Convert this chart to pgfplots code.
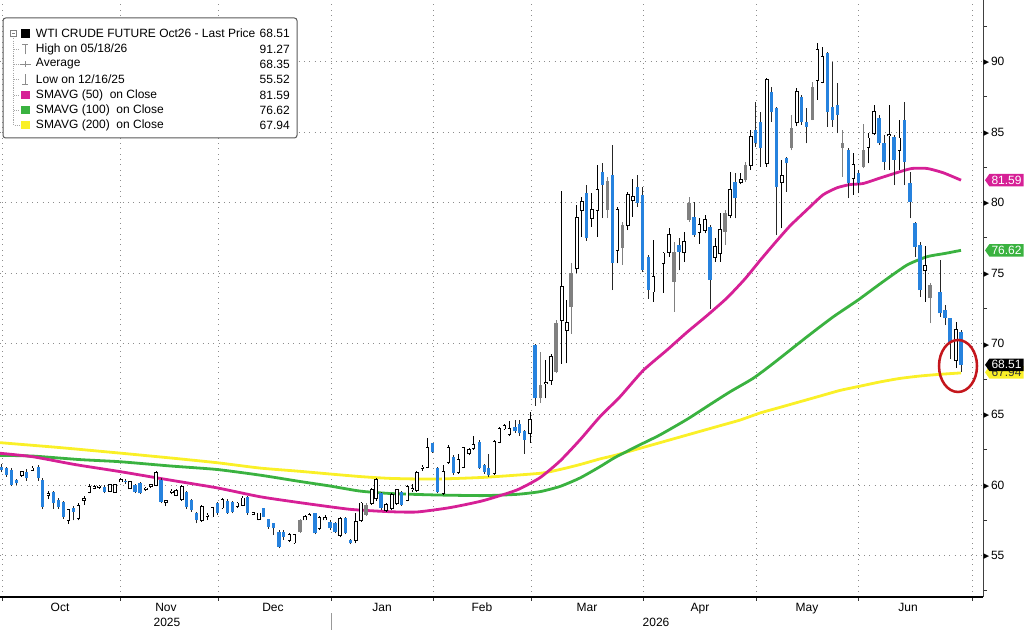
\documentclass[border=0pt]{standalone}
\usepackage{fontspec}
\setmainfont{Liberation Sans}
\newfontfamily\djv{DejaVu Sans}
\usepackage{pgfplots}
\pgfplotsset{compat=1.18}
\usepackage{pgfplotstable}
\usetikzlibrary{shapes.symbols}

\definecolor{bbblue}{RGB}{38,130,222}
\definecolor{bbgray}{RGB}{128,128,128}
\definecolor{mag}{RGB}{214,32,150}
\definecolor{grn}{RGB}{58,178,64}
\definecolor{yel}{RGB}{250,240,40}
\definecolor{redc}{RGB}{196,22,28}

\newcommand{\ytl}[1]{{\djv\fontsize{5.5}{6}\selectfont\raisebox{0.7pt}{▶}}\hspace{1.3pt}#1}

\pgfplotstableread{
x o h l c
21.7 60.71 61.00 60.60 60.94
32.3 61.06 61.35 61.00 61.18
48.3 59.30 59.60 59.00 59.35
68.3 57.52 58.30 57.24 58.23
78.3 57.64 58.70 57.50 58.50
84.0 58.94 59.20 58.60 59.00
89.3 59.53 60.10 59.40 59.88
94.3 59.80 60.00 59.70 59.85
99.0 59.85 60.00 59.75 59.90
110.0 59.60 60.10 59.50 60.00
115.0 59.50 60.10 59.45 60.00
120.7 60.24 60.50 60.20 60.35
130.0 59.76 60.30 59.70 60.24
145.7 59.70 59.85 59.60 59.76
150.7 59.90 60.10 59.80 60.00
156.0 60.00 61.00 59.90 60.83
165.7 58.80 58.90 58.50 58.85
171.7 59.50 59.70 59.35 59.55
176.0 59.29 59.70 59.20 59.60
181.7 59.00 60.00 58.90 59.88
201.7 57.52 58.60 57.40 58.46
207.3 57.80 58.00 57.52 57.85
212.3 57.76 58.45 57.70 58.35
222.3 58.40 59.10 58.30 58.94
237.3 58.50 58.80 58.40 58.70
242.7 58.60 59.20 58.50 59.05
253.3 57.95 58.10 57.90 58.00
258.7 57.57 58.05 57.50 57.99
289.3 56.10 56.60 56.00 56.45
294.3 55.92 56.55 55.85 56.45
305.0 57.55 57.85 57.50 57.75
309.3 57.85 58.00 57.80 57.90
319.3 56.93 57.80 56.80 57.64
325.0 57.55 57.90 57.50 57.64
340.0 56.45 57.70 56.30 57.57
355.7 56.10 57.99 55.87 57.40
361.0 57.50 58.80 57.40 58.70
371.7 58.70 59.80 58.60 59.64
376.0 59.05 60.50 58.90 60.35
386.0 58.23 58.70 58.10 58.60
391.7 58.35 59.40 58.20 59.30
396.7 58.70 59.70 58.60 59.64
407.3 58.94 60.00 58.85 59.88
412.3 59.70 60.10 59.50 59.75
416.7 59.64 61.00 59.50 60.83
422.3 61.20 61.40 61.00 61.25
427.3 61.30 63.30 61.20 62.60
443.3 59.40 61.40 59.30 60.94
448.3 61.65 62.80 61.50 62.60
458.3 60.94 62.20 60.80 61.77
463.3 61.30 62.70 61.20 62.60
469.0 62.25 62.60 62.10 62.50
473.3 62.60 63.50 62.50 62.83
494.3 60.83 63.20 60.70 63.07
499.3 63.07 64.10 62.95 64.00
504.3 64.00 64.30 63.90 64.20
509.3 63.60 64.50 63.50 64.00
530.0 63.65 65.20 63.00 64.60
545.7 67.20 68.85 66.14 67.25
551.0 67.43 69.30 67.10 69.10
561.7 71.70 80.80 68.60 74.05
566.7 70.98 73.10 68.62 71.45
576.7 75.34 79.80 74.99 78.90
581.7 79.50 80.42 77.60 80.07
591.7 78.90 80.66 78.30 79.50
597.3 79.50 82.66 77.60 80.90
617.3 76.64 79.70 75.70 79.47
627.7 78.40 80.77 78.06 80.54
632.7 80.20 81.70 79.00 80.42
653.3 73.70 77.35 72.98 74.75
663.3 75.70 76.50 73.60 76.40
669.0 76.50 78.20 76.17 77.70
684.0 76.50 77.94 75.80 77.24
699.3 77.94 78.88 77.10 78.40
705.0 78.06 79.10 77.82 78.77
715.0 76.17 77.47 75.80 76.88
720.0 76.40 79.24 75.80 78.06
730.0 79.12 82.20 78.88 80.90
740.7 81.48 82.07 81.30 81.60
750.7 82.66 85.14 82.30 84.67
766.7 82.78 88.80 82.54 88.68
781.7 81.44 83.00 78.18 81.90
796.7 85.73 88.10 85.40 87.85
817.3 88.68 91.27 87.27 90.80
822.3 88.56 91.04 88.44 90.33
853.3 81.72 83.49 80.54 82.66
868.3 83.96 84.90 82.78 84.55
874.0 84.90 86.91 84.80 86.44
889.0 84.75 86.91 82.30 84.80
899.3 83.73 85.85 82.30 84.55
925.0 75.20 76.90 72.98 75.50
956.0 68.85 71.56 68.30 70.98
}\upc

\pgfplotstableread{
x o h l c
1.7 61.30 61.50 60.90 61.06
6.7 61.18 61.30 60.60 60.71
11.7 61.06 61.20 59.90 60.00
16.7 60.35 60.40 60.00 60.12
26.7 60.94 61.10 60.30 60.47
38.3 61.30 61.40 60.30 60.47
42.7 60.35 60.50 58.30 58.46
53.3 59.53 59.60 58.30 58.70
58.3 58.94 59.10 58.30 58.46
63.3 58.82 58.90 57.60 57.76
73.3 58.35 58.50 57.50 58.11
104.3 59.88 60.00 59.40 59.53
125.7 60.30 60.40 60.10 60.24
135.0 60.00 60.10 59.40 59.53
140.0 60.12 60.20 59.35 59.41
161.0 60.35 60.50 58.70 58.82
186.7 59.53 59.60 58.30 58.46
191.7 58.94 59.00 58.10 58.23
196.7 57.99 58.10 57.28 57.52
217.3 58.70 58.80 57.90 57.99
227.7 58.88 59.00 57.95 58.05
232.3 58.82 58.90 58.00 58.11
247.7 59.17 59.20 57.90 58.05
263.3 58.35 58.40 57.70 57.76
268.3 57.57 57.60 56.90 57.05
273.3 57.28 57.30 56.45 56.93
279.0 56.70 56.80 55.52 55.63
283.3 56.70 56.80 56.10 56.34
315.0 57.99 58.05 56.50 56.57
330.0 57.40 57.50 56.80 56.93
335.0 57.28 57.40 56.60 56.70
345.7 57.64 57.70 56.50 56.57
350.7 56.10 56.20 55.80 55.87
381.0 59.40 59.50 58.25 58.35
401.7 59.53 59.60 58.50 58.60
432.7 62.95 63.00 62.30 62.36
437.7 61.18 61.30 59.40 59.53
453.3 62.00 62.10 60.70 60.83
479.3 63.07 63.20 61.10 61.18
484.3 61.41 61.50 60.80 60.94
488.7 61.18 62.20 60.60 60.71
515.0 64.10 64.60 63.70 63.80
519.3 64.30 64.60 63.50 63.65
524.3 63.80 63.90 62.20 63.20
535.0 69.90 70.00 65.60 66.14
586.7 80.66 81.25 77.30 77.47
602.3 82.20 82.78 78.90 81.25
612.3 81.95 84.08 73.80 75.70
637.3 81.13 81.95 79.70 79.95
642.7 80.54 81.13 75.10 75.23
648.3 76.17 76.30 73.20 73.80
679.0 77.00 77.47 75.20 76.50
694.0 79.00 80.07 77.58 77.70
710.0 78.30 78.40 72.50 74.52
735.0 81.48 82.07 78.88 80.30
755.7 85.14 87.15 83.96 84.20
760.7 85.73 86.44 82.54 83.84
771.7 87.85 88.20 85.73 86.44
776.7 86.67 86.79 77.70 81.13
786.7 83.18 83.25 80.77 82.78
801.7 87.50 87.62 85.50 85.73
806.7 85.73 86.67 84.20 85.37
827.3 90.57 90.69 85.37 86.44
832.3 86.79 89.98 85.37 85.85
837.7 86.91 88.44 84.90 86.20
848.3 83.73 83.84 80.30 81.36
858.3 82.07 82.30 80.66 81.36
879.0 85.97 86.20 84.08 84.20
884.0 84.20 84.79 82.30 82.90
894.0 84.67 84.79 81.24 83.02
904.3 85.85 87.15 81.24 82.90
910.0 81.36 82.19 78.89 80.07
915.0 78.53 78.65 76.17 76.88
920.0 77.00 77.23 73.30 73.81
940.0 73.69 75.93 71.92 72.16
945.0 72.40 72.75 71.33 71.80
950.0 71.80 71.80 68.90 70.15
961.0 70.86 70.98 68.00 68.51
}\dnc

\pgfplotstableread{
x o h l c
300.0 56.70 57.60 56.60 57.50
366.0 58.60 58.70 57.80 57.90
540.7 67.10 69.40 65.80 66.14
556.0 68.00 71.70 67.90 71.45
571.0 72.60 75.70 70.70 74.99
607.3 79.50 81.80 78.90 81.50
622.7 76.76 78.65 75.60 78.40
674.0 74.40 77.20 72.28 76.50
689.0 78.77 80.42 78.65 79.95
725.0 77.94 79.47 76.99 79.24
745.7 81.60 82.90 81.48 82.66
791.7 83.84 86.20 83.70 85.26
812.3 85.85 88.56 85.85 88.20
842.7 83.84 85.14 81.84 84.20
863.3 82.54 85.60 82.42 83.73
930.0 74.16 74.28 71.45 73.22
}\grc

\pgfplotstableread{
x v
0 62.25
33 62.00
75 61.45
120 60.95
170 60.35
217 59.80
260 59.17
300 58.75
350 58.28
390 58.11
417 58.09
450 58.40
483 58.89
517 59.65
540 60.52
560 61.70
580 63.20
600 64.84
620 66.25
643 68.10
667 69.56
687 70.82
707 72.00
727 73.25
745 74.60
760 75.90
775 77.15
790 78.35
807 79.50
823 80.55
837 81.05
850 81.28
863 81.35
880 81.74
900 82.19
912 82.42
927 82.42
943 82.12
961 81.59
}\maf

\pgfplotstableread{
x v
0 62.10
33 62.05
80 61.80
120 61.65
170 61.35
217 61.10
260 60.70
300 60.25
330 59.93
360 59.57
390 59.40
433 59.30
483 59.25
517 59.34
540 59.53
560 59.90
580 60.50
600 61.30
615 61.95
640 62.85
660 63.55
687 64.65
710 65.70
730 66.60
753 67.55
773 68.60
807 70.50
833 71.90
858 73.10
883 74.40
907 75.58
927 76.17
945 76.40
961 76.62
}\mah

\pgfplotstableread{
x v
0 63.00
60 62.65
120 62.26
170 61.92
217 61.58
260 61.20
300 60.97
330 60.78
360 60.60
390 60.47
433 60.42
483 60.54
540 60.83
560 61.10
580 61.45
600 61.85
615 62.10
640 62.60
660 63.00
680 63.40
700 63.80
720 64.20
740 64.60
760 65.10
780 65.50
800 65.90
820 66.30
840 66.70
860 67.00
880 67.30
900 67.55
920 67.72
940 67.84
961 67.94
}\mat

\begin{document}
\begin{tikzpicture}
\useasboundingbox (0pt,0pt) rectangle (768pt,472.5pt);
\begin{axis}[
  at={(0pt,24.75pt)}, anchor=south west,
  scale only axis, width=737.25pt, height=447.75pt,
  xmin=0, xmax=983, ymin=52.07, ymax=94.35,
  axis x line*=bottom, axis y line*=right,
  separate axis lines,
  x axis line style={black, line width=1.1pt},
  y axis line style={black!75, line width=0.75pt},
  xtick={60,166,273,382,482,587,700,807,908},
  xticklabels={Oct,Nov,Dec,Jan,Feb,Mar,Apr,May,Jun},
  minor xtick={2,120,218,331,433,531,643,756,858,972},
  ytick={55,60,65,70,75,80,85,90},
  yticklabels={\ytl{55},\ytl{60},\ytl{65},\ytl{70},\ytl{75},\ytl{80},\ytl{85},\ytl{90}},
  minor ytick={52.5,57.5,62.5,67.5,72.5,77.5,82.5,87.5,92.5},
  major tick length=0pt, minor tick length=3pt, tick align=outside,
  tick style={black!80, line width=0.7pt},
  xminorgrids=true, ymajorgrids=true, xmajorgrids=false,
  major grid style={black!45, line width=0.6pt, dash pattern=on 0.6pt off 3.4pt},
  minor grid style={black!45, line width=0.6pt, dash pattern=on 0.6pt off 3.4pt},
  every tick label/.append style={font=\fontsize{9}{10}\selectfont},
  xticklabel style={anchor=north, inner sep=0pt, yshift=-4.5pt},
  yticklabel style={anchor=west, inner sep=0pt, xshift=0.3pt},
]
% --- moving averages
\addplot[yel, line width=2.1pt, smooth, tension=0.35] table[x=x,y=v]{\mat};
\addplot[grn, line width=2.1pt, smooth, tension=0.35] table[x=x,y=v]{\mah};
\addplot[mag, line width=2.1pt, smooth, tension=0.35] table[x=x,y=v]{\maf};
% --- wicks
\addplot[draw=none, mark=none, forget plot, error bars/.cd, y dir=plus, y explicit, error mark=none,
  error bar style={draw=black, line width=0.6pt}]
  table[x=x, y=l, y error plus expr={\thisrow{h}-\thisrow{l}}]{\upc};
\addplot[draw=none, mark=none, forget plot, error bars/.cd, y dir=plus, y explicit, error mark=none,
  error bar style={draw=black!85, line width=0.6pt}]
  table[x=x, y=l, y error plus expr={\thisrow{h}-\thisrow{l}}]{\dnc};
\addplot[draw=none, mark=none, forget plot, error bars/.cd, y dir=plus, y explicit, error mark=none,
  error bar style={draw=bbgray, line width=0.6pt}]
  table[x=x, y=l, y error plus expr={\thisrow{h}-\thisrow{l}}]{\grc};
% --- bodies
\addplot[draw=none, mark=none, forget plot, error bars/.cd, y dir=plus, y explicit, error mark=none,
  error bar style={draw=black, line width=2.7pt}]
  table[x=x, y expr={min(\thisrow{o},\thisrow{c})-0.06}, y error plus expr={abs(\thisrow{c}-\thisrow{o})+0.12}]{\upc};
\addplot[draw=none, mark=none, forget plot, error bars/.cd, y dir=plus, y explicit, error mark=none,
  error bar style={draw=white, line width=1.5pt}]
  table[x=x, y expr={min(\thisrow{o},\thisrow{c})}, y error plus expr={abs(\thisrow{c}-\thisrow{o})}]{\upc};
\addplot[draw=none, mark=none, forget plot, error bars/.cd, y dir=plus, y explicit, error mark=none,
  error bar style={draw=bbblue, line width=2.5pt}]
  table[x=x, y expr={min(\thisrow{o},\thisrow{c})}, y error plus expr={max(abs(\thisrow{c}-\thisrow{o}),0.08)}]{\dnc};
\addplot[draw=none, mark=none, forget plot, error bars/.cd, y dir=plus, y explicit, error mark=none,
  error bar style={draw=bbgray, line width=2.5pt}]
  table[x=x, y expr={min(\thisrow{o},\thisrow{c})}, y error plus expr={max(abs(\thisrow{c}-\thisrow{o}),0.08)}]{\grc};
\coordinate (tagM) at (axis cs:985,81.59);
\coordinate (tagG) at (axis cs:985,76.62);
\coordinate (tagK) at (axis cs:985,68.51);
\coordinate (tagY) at (axis cs:985,67.98);
\coordinate (ell) at (axis cs:958,68.43);
\end{axis}
% --- right-hand value tags
\begin{scope}[every node/.style={signal, signal to=west, signal pointer angle=110, anchor=west,
   inner xsep=1.6pt, inner ysep=1.5pt, outer sep=0pt, font=\fontsize{9}{10}\selectfont}]
\node[fill=mag, text=white] at (tagM) {81.59};
\node[fill=grn, text=white] at (tagG) {76.62};
\node[fill=yel, text=black!80] at (tagY) {67.94};
\node[fill=black, text=white] at (tagK) {68.51};
\end{scope}
% --- red circle
\draw[redc, line width=1.9pt] (ell) ellipse [x radius=14.25pt, y radius=19.5pt];
% --- year labels
\node[font=\fontsize{9}{10}\selectfont, inner sep=0pt] at (125.25pt,5.5pt) {2025};
\node[font=\fontsize{9}{10}\selectfont, inner sep=0pt] at (492pt,5.5pt) {2026};
\draw[black!40, line width=0.5pt] (248.25pt,0pt) -- (248.25pt,13pt);
% --- legend
\begin{scope}[x=1pt, y=1pt, font=\fontsize{9}{10}\selectfont]
\draw[black!65, line width=0.75pt, fill=white, rounded corners=2pt] (2.25,369) rectangle (222.75,459);
\draw[black!35, line width=0.5pt, dash pattern=on 0.8pt off 0.8pt] (10.3,445.3) -- (10.3,378.75) -- (14.5,378.75);
\foreach \yy in {435.5,424.5,413,401.25,390} {\draw[black!35, line width=0.5pt, dash pattern=on 0.8pt off 0.8pt] (10.3,\yy) -- (14.5,\yy);}
\draw[black!50, line width=0.5pt, fill=white] (8.1,445.3) rectangle (12.5,449.7);
\draw[black!50, line width=0.5pt] (9,447.5) -- (11.6,447.5);
\fill[black] (15.4,444.2) rectangle (22.6,450.8);
\draw[black!45, line width=0.7pt] (18.9,431.8) -- (18.9,439.4) (16.6,439.4) -- (21.2,439.4);
\draw[black!45, line width=0.7pt] (14.8,424.5) -- (23,424.5) (18.9,422.6) -- (18.9,426.4);
\draw[black!45, line width=0.7pt] (18.9,409.4) -- (18.9,417) (16.6,409.4) -- (21.2,409.4);
\fill[mag] (15.4,397.95) rectangle (22.6,404.55);
\fill[grn] (15.4,386.7) rectangle (22.6,393.3);
\fill[yel] (15.4,375.45) rectangle (22.6,382.05);
\node[anchor=west, inner sep=0pt] at (26.8,447.5) {WTI CRUDE FUTURE Oct26 - Last Price};
\node[anchor=west, inner sep=0pt] at (26.8,435.5) {High on 05/18/26};
\node[anchor=west, inner sep=0pt] at (26.8,424.5) {Average};
\node[anchor=west, inner sep=0pt] at (26.8,413) {Low on 12/16/25};
\node[anchor=west, inner sep=0pt] at (26.8,401.25) {SMAVG (50)\ \ on Close};
\node[anchor=west, inner sep=0pt] at (26.8,390) {SMAVG (100)\ \ on Close};
\node[anchor=west, inner sep=0pt] at (26.8,378.75) {SMAVG (200)\ \ on Close};
\node[anchor=east, inner sep=0pt] at (217.5,447.5) {68.51};
\node[anchor=east, inner sep=0pt] at (217.5,435.5) {91.27};
\node[anchor=east, inner sep=0pt] at (217.5,424.5) {68.35};
\node[anchor=east, inner sep=0pt] at (217.5,413) {55.52};
\node[anchor=east, inner sep=0pt] at (217.5,401.25) {81.59};
\node[anchor=east, inner sep=0pt] at (217.5,390) {76.62};
\node[anchor=east, inner sep=0pt] at (217.5,378.75) {67.94};
\end{scope}
\end{tikzpicture}
\end{document}
